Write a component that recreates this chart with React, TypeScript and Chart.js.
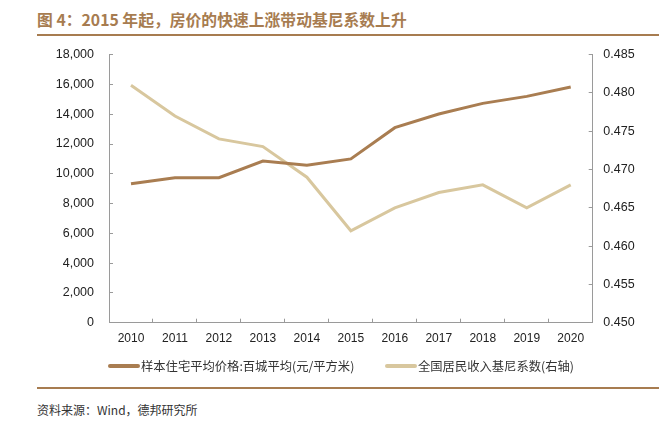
import React, { useEffect, useRef } from "react";
import { Chart, registerables } from "chart.js";

Chart.register(...registerables);

const years = ["2010", "2011", "2012", "2013", "2014", "2015", "2016", "2017", "2018", "2019", "2020"];
const housePrice = [9330, 9740, 9740, 10860, 10570, 11000, 13100, 14020, 14730, 15200, 15830];
const giniIndex = [0.481, 0.477, 0.474, 0.473, 0.469, 0.462, 0.465, 0.467, 0.468, 0.465, 0.468];
const priceLabel = "样本住宅平均价格:百城平均(元/平方米)";
const giniLabel = "全国居民收入基尼系数(右轴)";
const titleText = "图 4：2015 年起，房价的快速上涨带动基尼系数上升";
const sourceText = "资料来源：Wind，德邦研究所";

const PRICE_COLOR = "#a97d51";
const GINI_COLOR = "#d8c79e";
const BROWN = "#a77c50";
const AXIS_COLOR = "#9a9a9a";
const CJK = '"Noto Sans CJK SC", "Noto Sans", sans-serif';
const LATIN = '"Liberation Sans", Arial, sans-serif';

export default function App() {
  const canvasRef = useRef<HTMLCanvasElement | null>(null);

  useEffect(() => {
    const canvas = canvasRef.current;
    if (!canvas) return;
    const chart = new Chart(canvas, {
      type: "line",
      data: {
        labels: years,
        datasets: [
          {
            label: priceLabel,
            data: housePrice,
            borderColor: PRICE_COLOR,
            backgroundColor: PRICE_COLOR,
            borderWidth: 3,
            pointRadius: 0,
            tension: 0,
            yAxisID: "y",
          },
          {
            label: giniLabel,
            data: giniIndex,
            borderColor: GINI_COLOR,
            backgroundColor: GINI_COLOR,
            borderWidth: 3,
            pointRadius: 0,
            tension: 0,
            yAxisID: "y1",
          },
        ],
      },
      options: {
        animation: false,
        responsive: false,
        layout: { padding: { top: 14.7, left: 0, right: 0, bottom: 0 } },
        plugins: { legend: { display: false }, tooltip: { enabled: false } },
        scales: {
          x: {
            type: "category",
            offset: true,
            grid: { drawOnChartArea: false, drawTicks: true, tickLength: -4, color: AXIS_COLOR, offset: true },
            border: { color: AXIS_COLOR, width: 1 },
            ticks: { color: "#222", font: { family: LATIN, size: 12 }, padding: 13, maxRotation: 0, autoSkip: false },
            afterFit: (scale: any) => {
              scale.height = 37.3;
              scale.paddingLeft = 0;
              scale.paddingRight = 0;
            },
          },
          y: {
            position: "left",
            min: 0,
            max: 18000,
            grid: { drawOnChartArea: false, drawTicks: true, tickLength: -4, color: AXIS_COLOR },
            border: { color: AXIS_COLOR, width: 1 },
            ticks: {
              stepSize: 2000,
              color: "#222",
              font: { family: LATIN, size: 12.5 },
              padding: 19,
              callback: (v: any) => Number(v).toLocaleString("en-US"),
            },
            afterFit: (scale: any) => {
              scale.width = 109;
              scale.paddingTop = 0;
              scale.paddingBottom = 0;
            },
          },
          y1: {
            position: "right",
            min: 0.45,
            max: 0.485,
            grid: { drawOnChartArea: false, drawTicks: true, tickLength: -4, color: AXIS_COLOR },
            border: { color: AXIS_COLOR, width: 1 },
            ticks: {
              stepSize: 0.005,
              color: "#222",
              font: { family: LATIN, size: 12.5 },
              padding: 14.6,
              callback: (v: any) => Number(v).toFixed(3),
            },
            afterFit: (scale: any) => {
              scale.width = 71.3;
              scale.paddingTop = 0;
              scale.paddingBottom = 0;
            },
          },
        },
      },
    });
    return () => chart.destroy();
  }, []);

  const legendItem = (left: number, color: string, text: string) => (
    <div
      style={{
        position: "absolute",
        left,
        top: 358,
        height: 16,
        display: "flex",
        alignItems: "center",
        whiteSpace: "nowrap",
      }}
    >
      <div style={{ width: 32, height: 4, background: color, borderRadius: 2, marginRight: 1 }} />
      <span style={{ fontFamily: CJK, fontSize: 12.3, color: "#333", lineHeight: "16px" }}>{text}</span>
    </div>
  );

  return (
    <div style={{ position: "fixed", left: 0, top: 0, width: 664, height: 422, background: "#fff", overflow: "hidden" }}>
      <div
        style={{
          position: "absolute",
          left: 37,
          top: 9,
          fontFamily: CJK,
          fontWeight: "bold",
          fontSize: 15.8,
          color: BROWN,
          lineHeight: "22px",
          whiteSpace: "nowrap",
        }}
      >
        {titleText}
      </div>
      <div style={{ position: "absolute", left: 37, top: 34, width: 622, height: 2, background: BROWN }} />
      <canvas
        ref={canvasRef}
        width={664}
        height={320}
        style={{ position: "absolute", left: 0, top: 40, width: 664, height: 320, display: "block" }}
      />
      {legendItem(108, PRICE_COLOR, priceLabel)}
      {legendItem(385, GINI_COLOR, giniLabel)}
      <div style={{ position: "absolute", left: 37, top: 387, width: 622, height: 2, background: BROWN }} />
      <div
        style={{
          position: "absolute",
          left: 37,
          top: 401,
          fontFamily: CJK,
          fontSize: 12,
          color: "#333",
          lineHeight: "18px",
          whiteSpace: "nowrap",
        }}
      >
        {sourceText}
      </div>
    </div>
  );
}
